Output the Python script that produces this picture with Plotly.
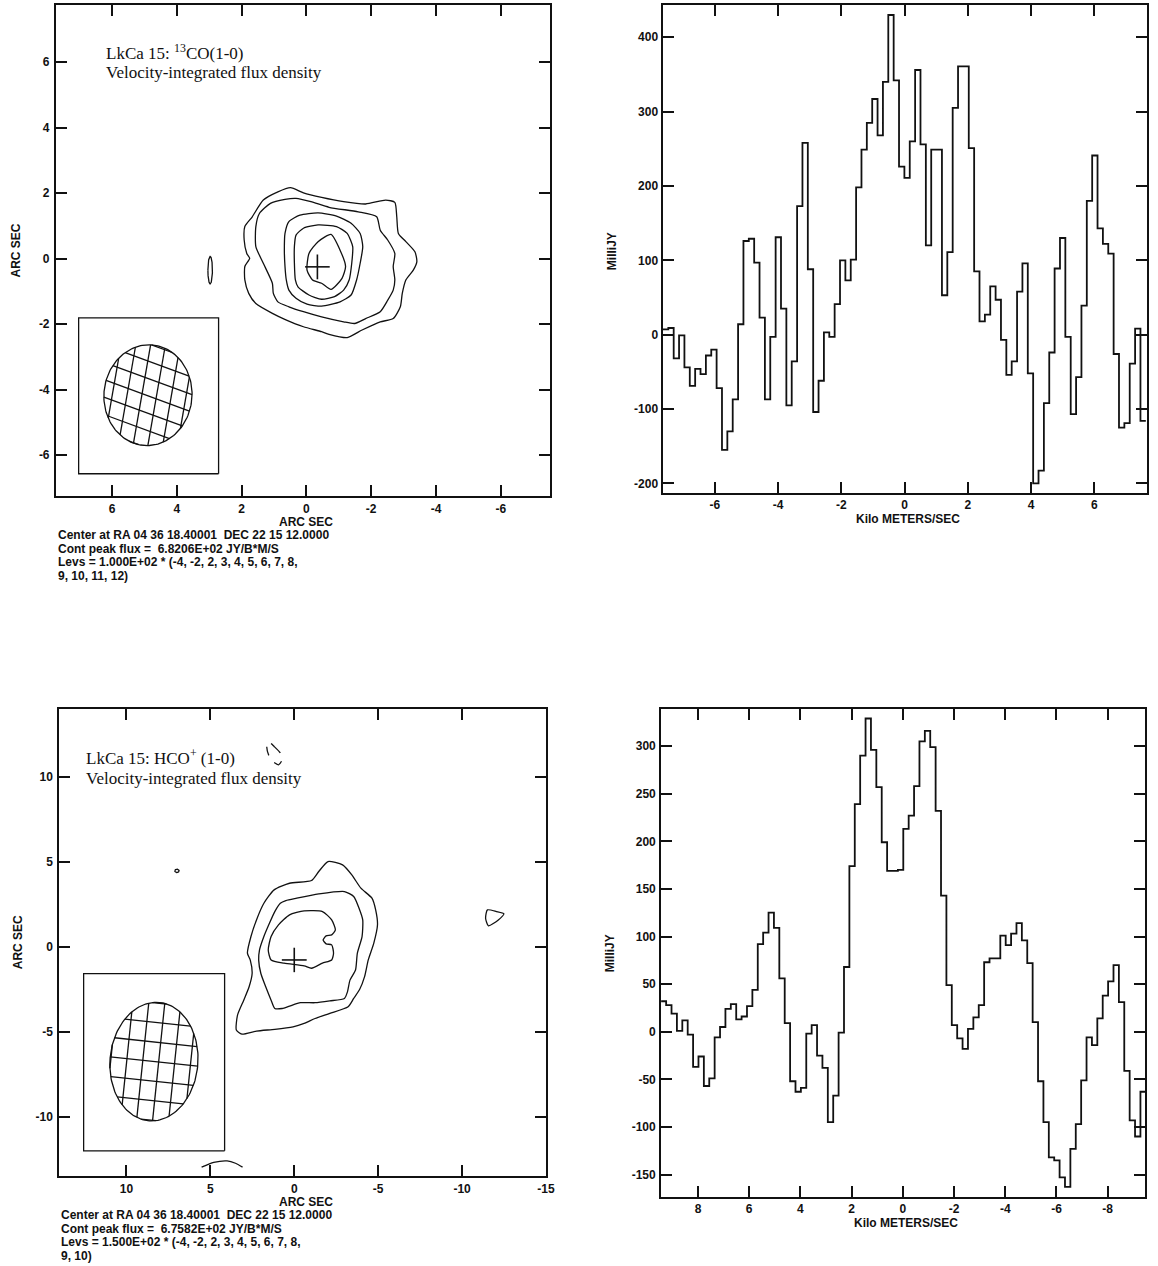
import numpy as np
import plotly.graph_objects as go

W, H = 1158, 1266
SANS = "Liberation Sans"
SERIF = "Liberation Serif"
INK = "#111111"

# ---------------------------------------------------------------- spectra
# 13CO(1-0) spectrum: channel centres start at co_first_v, spacing co_chan_w (km/s)
co_first_v = -7.554
co_chan_w = 0.1696
co_flux_mjy = [7, 9, -32, -1, -44, -69, -46, -53, -28, -20, -72, -155, -130, -87,
               14, 126, 129, 97, 23, -87, -3, 131, 35, -95, -36, 173,
               258, 88, -104, -62, 3, -3, 41, 100, 73, 101, 198, 249, 285, 317,
               268, 340, 430, 342, 226, 211, 260, 356, 256, 120, 249, 249, 53,
               111, 305, 361, 361,
               251, 85, 18, 27, 65, 47, -7, -54, -36, 58, 96, -52, -200, -183,
               -92, -24, 89, 130, -3, -107, -57, 39, 180, 241, 143, 122, 109,
               -26, -125, -119, -39, 8, -116]

# HCO+(1-0) spectrum: channels run from high to low velocity
hco_first_v = 9.350
hco_chan_w = -0.2105
hco_flux_mjy = [32, 28, 19, 1, 12, -3, -37, -26, -57, -49,
                -6, 5, 24, 29, 13, 16, 27, 44, 92, 104,
                125, 109, 56, 9, -52, -63, -59, -2, 7, -25,
                -38, -95, -67, -1, 68, 174, 239, 290, 329, 296,
                257, 199, 169, 169, 170, 213, 227, 258, 305, 316,
                299, 232, 143, 49, 7, -7, -18, 3, 15, 28,
                73, 77, 77, 101, 91, 103, 114, 96, 72, 10,
                -52, -95, -132, -135, -153, -163, -123, -97, -51, -6,
                -14, 14, 38, 53, 70, 31, -41, -93, -110, -63]

# ---------------------------------------------------------------- 13CO map
# contour paths (RA offset, Dec offset in arcsec); levels in units of 100 Jy/beam m/s
co_lev2 = [(0.49, 2.17), (0.09, 2.01), (-0.47, 1.87), (-1.15, 1.74), (-1.83, 1.67),
           (-2.45, 1.79), (-2.73, 1.72), (-2.79, 1.28), (-2.84, 0.77), (-3.07, 0.52),
           (-3.35, 0.21), (-3.41, -0.09), (-3.30, -0.35), (-3.07, -0.65), (-2.96, -1.06),
           (-2.90, -1.47), (-2.68, -1.83), (-2.28, -1.93), (-1.72, -2.18), (-1.26, -2.41),
           (-0.70, -2.31), (-0.47, -2.23), (0.09, -2.08), (0.65, -1.86), (1.05, -1.67),
           (1.56, -1.37), (1.78, -1.06), (1.90, -0.65), (1.90, -0.24), (1.75, 0.01),
           (1.84, 0.16), (1.92, 0.57), (1.90, 0.98), (1.67, 1.28), (1.33, 1.79),
           (0.88, 2.04), (0.49, 2.17)]
co_lev3 = [(0.66, 1.81), (1.11, 1.69), (1.45, 1.38), (1.56, 0.98), (1.56, 0.37),
           (1.33, -0.14), (1.05, -0.75), (1.02, -1.06), (0.88, -1.32), (0.54, -1.47),
           (0.09, -1.62), (-0.47, -1.78), (-1.15, -1.93), (-1.49, -1.98), (-1.83, -1.83),
           (-2.28, -1.62), (-2.51, -1.27), (-2.68, -0.96), (-2.73, -0.65), (-2.68, -0.24),
           (-2.73, 0.16), (-2.51, 0.57), (-2.28, 0.87), (-2.17, 1.28), (-1.60, 1.43),
           (-0.70, 1.57), (-0.14, 1.74), (0.32, 1.84), (0.66, 1.81)]
co_lev4 = [(0.66, 0.77), (0.54, 1.13), (0.20, 1.33), (-0.36, 1.40), (-0.93, 1.30),
           (-1.38, 1.08), (-1.66, 0.77), (-1.74, 0.37), (-1.66, -0.14), (-1.55, -0.65),
           (-1.38, -1.11), (-1.04, -1.32), (-0.47, -1.45), (-0.02, -1.39), (0.32, -1.21),
           (0.54, -0.96), (0.62, -0.65), (0.66, -0.24), (0.68, 0.26), (0.66, 0.77)]
co_lev5 = [(0.32, 0.72), (0.09, 0.93), (-0.36, 1.03), (-0.93, 0.98), (-1.26, 0.77),
           (-1.43, 0.37), (-1.40, -0.14), (-1.32, -0.65), (-1.15, -0.96), (-0.87, -1.16),
           (-0.47, -1.24), (-0.08, -1.11), (0.26, -0.86), (0.34, -0.65), (0.37, -0.14),
           (0.37, 0.37), (0.32, 0.72)]
co_lev6 = [(-0.76, 0.74), (-1.04, 0.26), (-1.21, -0.24), (-1.10, -0.60), (-0.76, -0.94),
           (-0.47, -0.75), (-0.19, -0.65), (-0.02, -0.35), (-0.08, 0.16), (-0.36, 0.52),
           (-0.76, 0.74)]
co_blob = (2.97, -0.35, 0.07, 0.42)          # small isolated level-2 island
co_star = (-0.34, -0.25)                     # stellar position
co_beam = (4.89, -4.17, 1.36, 1.54, 5.0)     # centre x, y, semi-axes, tilt (deg)
co_beam_box = (2.71, 7.03, -6.57, -1.81)

# ---------------------------------------------------------------- HCO+ map
hco_lev2 = [(-2.01, 5.03), (-2.88, 4.83), (-3.43, 4.24), (-3.97, 3.46), (-4.63, 2.87),
            (-4.85, 2.18), (-4.96, 1.30), (-4.74, 0.22), (-4.41, -0.77), (-4.19, -1.75),
            (-3.90, -2.50), (-3.54, -3.04), (-3.21, -3.53), (-2.12, -3.92), (-1.24, -4.22),
            (-0.59, -4.51), (0.07, -4.71), (1.16, -4.86), (2.25, -4.96), (3.12, -5.14),
            (3.45, -4.90), (3.38, -4.02), (3.01, -3.14), (2.69, -2.35), (2.51, -1.57),
            (2.62, -0.78), (2.79, -0.37), (2.58, 0.61), (2.25, 1.59), (1.81, 2.57),
            (1.20, 3.36), (0.28, 3.75), (-1.03, 3.91), (-1.46, 4.44), (-2.01, 5.03)]
hco_lev3 = [(0.50, 2.73), (-0.15, 2.87), (-1.46, 3.12), (-2.99, 3.26), (-3.54, 2.97),
            (-3.86, 2.28), (-4.08, 1.59), (-4.04, 0.61), (-3.76, -0.37), (-3.65, -1.36),
            (-3.32, -1.96), (-3.17, -2.65), (-2.99, -3.04), (-2.12, -3.18), (-1.24, -3.29),
            (-0.37, -3.29), (0.28, -3.49), (0.72, -3.63), (1.16, -3.63), (1.38, -3.14),
            (1.70, -2.35), (1.99, -1.57), (2.12, -0.78), (2.07, -0.18), (1.81, 0.61),
            (1.48, 1.39), (1.16, 2.08), (0.83, 2.57), (0.50, 2.73)]
hco_lev4 = [(1.55, -0.18), (1.38, 0.61), (0.94, 1.30), (0.28, 1.89), (-0.59, 2.12),
            (-1.68, 2.08), (-2.23, 1.59), (-2.45, 1.00), (-2.23, 0.71), (-1.90, 0.65),
            (-1.72, 0.41), (-1.90, 0.18), (-2.23, 0.12), (-2.34, -0.37), (-2.23, -0.77),
            (-1.68, -0.96), (-1.03, -1.26), (-0.59, -1.12), (0.61, -0.96), (1.38, -0.77),
            (1.55, -0.18)]
hco_lev2_west = [(-11.51, 2.18), (-12.05, 2.08), (-12.49, 1.95), (-12.16, 1.59),
                 (-11.57, 1.24), (-11.40, 1.69), (-11.51, 2.18)]
hco_lev2_south = [(5.52, -12.98), (4.80, -12.70), (4.00, -12.61), (3.50, -12.75), (3.08, -12.98)]
hco_neg2 = [(1.53, 12.10), (1.20, 11.81), (0.83, 11.42), (0.72, 11.02), (0.94, 10.73),
            (1.27, 10.92), (1.53, 11.32), (1.64, 11.81), (1.53, 12.10)]
hco_knot = (6.99, 4.48, 0.13, 0.10)
hco_star = (0.0, -0.77)
hco_beam = (8.36, -6.76, 2.62, 3.50, 5.0)
hco_beam_box = (4.15, 12.55, -12.02, -1.57)

# ---------------------------------------------------------------- helpers
def ellipse(cx, cy, a, b, tilt=0.0, n=160):
    t = np.linspace(0, 2 * np.pi, n)
    th = np.radians(tilt)
    u, v = a * np.cos(t), b * np.sin(t)
    return cx + u * np.cos(th) - v * np.sin(th), cy + u * np.sin(th) + v * np.cos(th)


def hatch(cx, cy, a, b, tilt, direction, spacing, phase=0.0):
    th, ang = np.radians(tilt), np.radians(direction)
    d = np.array([np.cos(ang), np.sin(ang)])
    nrm = np.array([-d[1], d[0]])
    r = max(a, b) * 1.1
    t = np.linspace(-r, r, 3001)
    xs, ys = [], []
    for s in np.arange(-r + phase, r, spacing):
        px = cx + s * nrm[0] + t * d[0]
        py = cy + s * nrm[1] + t * d[1]
        dx, dy = px - cx, py - cy
        u = dx * np.cos(th) + dy * np.sin(th)
        v = -dx * np.sin(th) + dy * np.cos(th)
        inside = (u / a) ** 2 + (v / b) ** 2 <= 1
        if inside.sum() > 3:
            i0 = int(np.argmax(inside))
            i1 = len(inside) - 1 - int(np.argmax(inside[::-1]))
            xs += [px[i0], px[i1], None]
            ys += [py[i0], py[i1], None]
    return xs, ys


def steps(first_v, width, flux):
    edges = first_v - width / 2 + width * np.arange(len(flux) + 1)
    return edges, list(flux) + [flux[-1]]


fig = go.Figure()


def line(x, y, ax, width=1.3, dash="solid", shape="linear", smooth=None):
    ln = dict(color=INK, width=width, dash=dash, shape=shape)
    if smooth is not None:
        ln["smoothing"] = smooth
    fig.add_trace(go.Scatter(x=x, y=y, mode="lines", line=ln, hoverinfo="skip",
                             showlegend=False, xaxis="x" + ax, yaxis="y" + ax))


def path(pts, ax, **kw):
    line([p[0] for p in pts], [p[1] for p in pts], ax, shape="spline", smooth=0.6, **kw)


def cross(c, hx, hy, ax):
    line([c[0] - hx, c[0] + hx, None, c[0], c[0]],
         [c[1], c[1], None, c[1] - hy, c[1] + hy], ax, width=1.6)


def box(b, ax):
    line([b[0], b[1], b[1], b[0], b[0]], [b[2], b[2], b[3], b[3], b[2]], ax, width=1.3)


def beam(bm, dirs, spacings, ax):
    ex, ey = ellipse(*bm)
    line(ex, ey, ax, width=1.3)
    for dr, sp in zip(dirs, spacings):
        hx, hy = hatch(*bm, dr, sp, phase=sp * 0.35)
        line(hx, hy, ax, width=1.3)


# ---- panel 1: 13CO map
for c in (co_lev2, co_lev3, co_lev4, co_lev5, co_lev6):
    path(c, "1")
bx, by = ellipse(*co_blob)
line(bx, by, "1")
cross(co_star, 0.38, 0.38, "1")
box(co_beam_box, "1")
beam(co_beam, (20, 100), (0.50, 0.45), "1")

# ---- panel 2: 13CO spectrum
ex, ey = steps(co_first_v, co_chan_w, co_flux_mjy)
line(ex, ey, "2", width=1.8, shape="hv")

# ---- panel 3: HCO+ map
for c in (hco_lev2, hco_lev3, hco_lev4, hco_lev2_west):
    path(c, "3")
path(hco_lev2_south, "3")
path(hco_neg2, "3", dash="dash")
kx, ky = ellipse(*hco_knot)
line(kx, ky, "3")
cross(hco_star, 0.74, 0.72, "3")
box(hco_beam_box, "3")
beam(hco_beam, (6, 96), (1.15, 0.95), "3")

# ---- panel 4: HCO+ spectrum
ex, ey = steps(hco_first_v, hco_chan_w, hco_flux_mjy)
line(ex, ey, "4", width=1.8, shape="hv")

# ---------------------------------------------------------------- axes
tickfont = dict(family=SANS, size=12, color=INK, weight="bold")


def axis(domain, rng, vals, anchor, standoff):
    return dict(domain=domain, range=rng, anchor=anchor, tickmode="array",
                tickvals=vals, ticktext=[str(v) for v in vals],
                ticks="inside", ticklen=11, tickwidth=1.8, tickcolor=INK,
                showline=True, linewidth=2, linecolor=INK, mirror="ticks",
                showgrid=False, zeroline=False, tickfont=tickfont,
                ticklabelstandoff=standoff, fixedrange=True)


layout = dict(
    width=W, height=H, margin=dict(l=0, r=0, t=0, b=0),
    paper_bgcolor="white", plot_bgcolor="white", showlegend=False,
    xaxis1=axis([0.0487, 0.4784], [7.73, -7.51], [6, 4, 2, 0, -2, -4, -6], "y1", 1),
    yaxis1=axis([0.6082, 0.9961], [-7.25, 7.75], [6, 4, 2, 0, -2, -4, -6], "x1", 2),
    xaxis2=axis([0.5766, 0.9980], [-7.653, 7.653], [-6, -4, -2, 0, 2, 4, 6], "y2", 0),
    yaxis2=axis([0.6108, 0.9961], [-212.6, 443.5], [-200, -100, 0, 100, 200, 300, 400], "x2", 0),
    xaxis3=axis([0.0516, 0.4752], [14.0, -15.0], [10, 5, 0, -5, -10, -15], "y3", 1),
    yaxis3=axis([0.0711, 0.4400], [-13.5, 14.02], [10, 5, 0, -5, -10], "x3", 2),
    xaxis4=axis([0.5754, 0.9968], [9.44, -9.47], [8, 6, 4, 2, 0, -2, -4, -6, -8], "y4", 0),
    yaxis4=axis([0.0547, 0.4400], [-173.3, 339], [-150, -100, -50, 0, 50, 100, 150, 200, 250, 300], "x4", 1),
)
fig.update_layout(**layout)

# ---------------------------------------------------------------- text
lab = dict(family=SANS, size=12, color=INK, weight="bold")
ann = []


def text_px(x, y, s, font, xanchor="center", angle=0):
    ann.append(dict(x=x / W, y=1 - y / H, xref="paper", yref="paper", text=s,
                    showarrow=False, font=font, xanchor=xanchor, yanchor="middle",
                    textangle=angle))


# axis titles
text_px(308.9, 521.5, "ARC SEC", lab)
text_px(16.6, 250, "ARC SEC", lab, angle=-90)
text_px(914.7, 518.5, "Kilo METERS/SEC", lab)
text_px(617, 251, "MilliJY", lab, angle=-90)
text_px(308.9, 1201.5, "ARC SEC", lab)
text_px(18.4, 942, "ARC SEC", lab, angle=-90)
text_px(913.6, 1222.5, "Kilo METERS/SEC", lab)
text_px(615, 953, "MilliJY", lab, angle=-90)

nb = "\u00a0"
co_notes = ["Center at RA 04 36 18.40001" + nb * 2 + "DEC 22 15 12.0000",
            "Cont peak flux =" + nb * 2 + "6.8206E+02 JY/B*M/S",
            "Levs = 1.000E+02 * (-4, -2, 2, 3, 4, 5, 6, 7, 8,",
            "9, 10, 11, 12)"]
hco_notes = ["Center at RA 04 36 18.40001" + nb * 2 + "DEC 22 15 12.0000",
             "Cont peak flux =" + nb * 2 + "6.7582E+02 JY/B*M/S",
             "Levs = 1.500E+02 * (-4, -2, 2, 3, 4, 5, 6, 7, 8,",
             "9, 10)"]
for i, s in enumerate(co_notes):
    text_px(56.4, 535 + i * 13.7, s, lab, xanchor="left")
for i, s in enumerate(hco_notes):
    text_px(59.7, 1215 + i * 13.5, s, lab, xanchor="left")

serif = dict(family=SERIF, size=17, color=INK)
for x, y, s, ax in [(6.24, 6.32, "LkCa 15: <sup>13</sup>CO(1-0)", "1"),
                    (6.24, 5.68, "Velocity-integrated flux density", "1"),
                    (12.51, 11.2, "LkCa 15: HCO<sup>+</sup> (1-0)", "3"),
                    (12.51, 9.94, "Velocity-integrated flux density", "3")]:
    ann.append(dict(x=x, y=y, xref="x" + ax, yref="y" + ax, text=s, showarrow=False,
                    font=serif, xanchor="left", yanchor="middle"))

fig.update_layout(annotations=ann)
fig.write_html("out.html")
